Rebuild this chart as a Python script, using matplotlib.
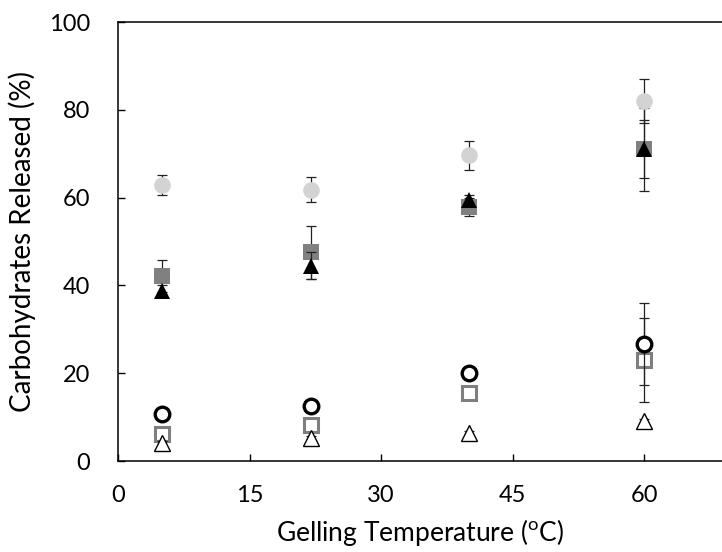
import matplotlib
matplotlib.use("Agg")
import matplotlib.pyplot as plt

plt.rcParams['font.family'] = ['Lato', 'DejaVu Sans']
plt.rcParams['mathtext.fontset'] = 'custom'
plt.rcParams['mathtext.rm'] = 'Lato'

# gelling temperature (C)
temps = [5, 22, 40, 60]

# filled series
circle_fill = [62.8, 61.8, 69.6, 82.0]
circle_fill_err = [2.3, 2.8, 3.2, 5.0]
square_fill = [42.1, 47.5, 57.9, 71.0]
square_fill_err = [3.7, 6.0, 2.0, 6.6]
tri_fill = [38.8, 44.5, 59.5, 71.0]
tri_fill_err = [1.2, 3.0, 1.0, 9.5]

# open series
circle_open = [10.7, 12.6, 20.0, 26.6]
circle_open_err = [0.8, 0.8, 0.8, 9.3]
square_open = [6.1, 8.2, 15.6, 23.0]
square_open_err = [0.8, 0.8, 0.8, 9.5]
tri_open = [4.0, 5.2, 6.4, 9.0]
tri_open_err = [0.5, 0.5, 0.5, 0.5]

fig = plt.figure(figsize=(7.22, 5.52), dpi=100)
ax = fig.add_axes([118 / 722, 1 - 461 / 552, 1 - 118 / 722, (461 - 22) / 552])

ebkw = dict(fmt='none', ecolor='#222222', elinewidth=0.9, capsize=3.6, capthick=0.9)

series = [
    (square_fill, square_fill_err, dict(marker='s', ms=12, mfc='#808080', mec='#808080', mew=0)),
    (tri_fill, tri_fill_err, dict(marker='^', ms=11.5, mfc='black', mec='black', mew=0)),
    (circle_fill, circle_fill_err, dict(marker='o', ms=12, mfc='#d3d3d3', mec='#d3d3d3', mew=0)),
    (square_open, square_open_err, dict(marker='s', ms=10.5, mfc='white', mec='#7f7f7f', mew=2.2)),
    (tri_open, tri_open_err, dict(marker='^', ms=12, mfc='white', mec='black', mew=1.0)),
    (circle_open, circle_open_err, dict(marker='o', ms=10.5, mfc='white', mec='black', mew=2.4)),
]
z = 2
for vals, errs, style in series:
    ax.errorbar(temps, vals, yerr=errs, zorder=z, **ebkw)
    ax.plot(temps, vals, linestyle='none', zorder=z + 0.5, **style)
    z += 1

ax.set_xlim(0, (722 - 118) / 8.767)
ax.set_ylim(0, 100)
ax.set_xticks([0, 15, 30, 45, 60])
ax.set_yticks([0, 20, 40, 60, 80, 100])

ax.spines['right'].set_visible(False)
for s in ['left', 'top', 'bottom']:
    ax.spines[s].set_linewidth(1.1)
ax.tick_params(direction='in', length=5, width=1.0, labelsize=17)
ax.tick_params(axis='x', pad=17)
ax.tick_params(axis='y', pad=20)

ax.set_xlabel('Gelling Temperature ($^{\\mathrm{o}}$C)', fontsize=19, labelpad=8)
ax.set_ylabel('Carbohydrates Released (%)', fontsize=20, labelpad=9)

fig.savefig('out.png', dpi=100)
